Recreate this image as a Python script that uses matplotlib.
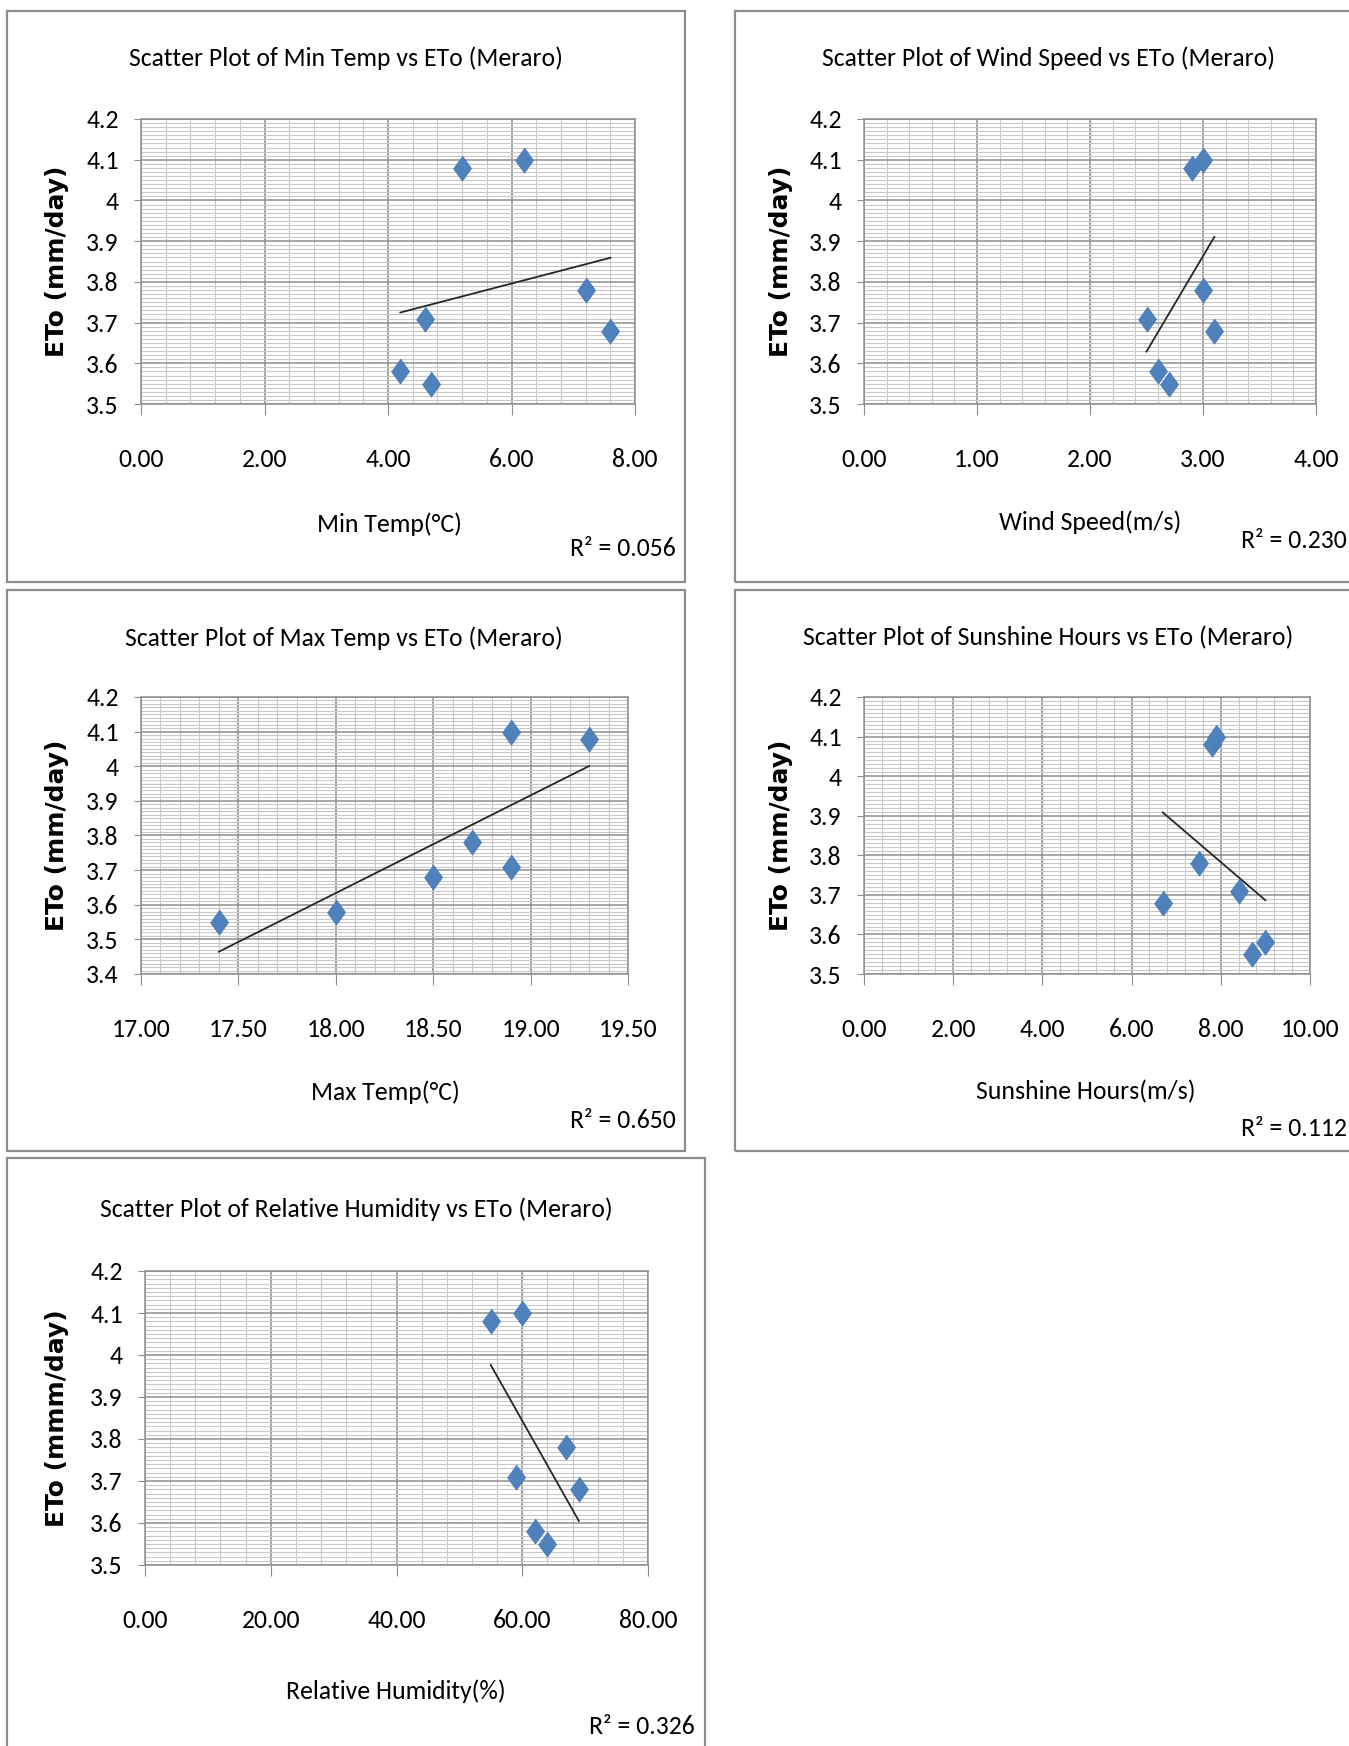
import numpy as np
import matplotlib
matplotlib.use('Agg')
import matplotlib.pyplot as plt
from matplotlib.patches import Rectangle
from matplotlib.ticker import MultipleLocator

W, H = 1349, 1746
plt.rcParams['font.family'] = ['Carlito', 'DejaVu Sans']

# data (7 months, Meraro station)
eto = [3.58, 3.55, 3.71, 4.08, 4.10, 3.78, 3.68]
min_temp = [4.2, 4.7, 4.6, 5.2, 6.2, 7.2, 7.6]
wind_speed = [2.6, 2.7, 2.5, 2.9, 3.0, 3.0, 3.1]
max_temp = [18.0, 17.4, 18.9, 19.3, 18.9, 18.7, 18.5]
sunshine = [9.0, 8.7, 8.4, 7.8, 7.9, 7.5, 6.7]
rel_hum = [62, 64, 59, 55, 60, 67, 69]

titles = ['Scatter Plot of Min Temp vs ETo (Meraro)',
          'Scatter Plot of Wind Speed vs ETo (Meraro)',
          'Scatter Plot of Max Temp vs ETo (Meraro)',
          'Scatter Plot of Sunshine Hours vs ETo (Meraro)',
          'Scatter Plot of Relative Humidity vs ETo (Meraro)']
xlabels = ['Min Temp(°C)', 'Wind Speed(m/s)', 'Max Temp(°C)',
           'Sunshine Hours(m/s)', 'Relative Humidity(%)']
ylabels = ['ETo (mm/day)'] * 4 + ['ETo (mmm/day)']
r2_labels = ['R² = 0.056', 'R² = 0.230', 'R² = 0.650', 'R² = 0.112', 'R² = 0.326']
xdata = [min_temp, wind_speed, max_temp, sunshine, rel_hum]

# layout in pixels: axes box (l, t, r, b), panel frame, text anchors
panels = [
    dict(ax=(141, 119, 635, 404), frame=(7, 11, 685, 582), xlim=(0, 8), xmaj=2, ylim=(3.5, 4.2),
         title=(346, 58), xl=(389, 524), yl=57, r2=(676, 548, 'right')),
    dict(ax=(864, 119, 1316, 404), frame=(735, 11, 1360, 582), xlim=(0, 4), xmaj=1, ylim=(3.5, 4.2),
         title=(1048, 58), xl=(1090, 522), yl=781, r2=(1347, 541, 'right')),
    dict(ax=(141, 697, 628, 974), frame=(7, 590, 685, 1151), xlim=(17, 19.5), xmaj=0.5, ylim=(3.4, 4.2),
         title=(344, 638), xl=(385, 1092), yl=57, r2=(676, 1120, 'right')),
    dict(ax=(864, 697, 1310, 974), frame=(735, 590, 1360, 1151), xlim=(0, 10), xmaj=2, ylim=(3.5, 4.2),
         title=(1048, 638), xl=(1086, 1092), yl=781, r2=(1347, 1129, 'right')),
    dict(ax=(145, 1271, 648, 1565), frame=(7, 1158, 705, 1760), xlim=(0, 80), xmaj=20, ylim=(3.5, 4.2),
         title=(356, 1209), xl=(396, 1691), yl=57, r2=(695, 1727, 'right')),
]

fig = plt.figure(figsize=(W / 100, H / 100), dpi=100)

def fxy(px, py):
    return px / W, 1 - py / H

txt = dict(fontsize=18.5, color='black')
diamond = [(0, 1), (0.72, 0), (0, -1), (-0.72, 0)]

for i, p in enumerate(panels):
    l, t, r, b = p['frame']
    x0, y0 = fxy(l, b)
    fig.patches.append(Rectangle((x0, y0), (r - l) / W, (b - t) / H, transform=fig.transFigure,
                                 fill=False, edgecolor='#8c8c8c', lw=1.6))

    l, t, r, b = p['ax']
    x0, y0 = fxy(l, b)
    ax = fig.add_axes([x0, y0, (r - l) / W, (b - t) / H])
    ax.set_xlim(*p['xlim'])
    ax.set_ylim(*p['ylim'])
    ax.xaxis.set_major_locator(MultipleLocator(p['xmaj']))
    ax.xaxis.set_minor_locator(MultipleLocator(p['xmaj'] / 5))
    ax.yaxis.set_major_locator(MultipleLocator(0.1))
    ax.yaxis.set_minor_locator(MultipleLocator(0.01))
    ax.grid(which='major', color='#8e8e8e', lw=1.1)
    ax.grid(which='minor', color='#c8c8c8', lw=0.8)
    ax.set_axisbelow(True)
    for s in ax.spines.values():
        s.set_color('#8e8e8e')
        s.set_linewidth(1.1)
    ax.tick_params(which='minor', length=0)
    ax.tick_params(axis='x', which='major', length=8, color='#8e8e8e', pad=24, labelsize=18.5)
    ax.tick_params(axis='y', which='major', length=5, color='#8e8e8e', pad=11, labelsize=18.5)
    ax.xaxis.set_major_formatter(lambda v, pos: f'{v:.2f}')
    ax.yaxis.set_major_formatter(lambda v, pos: f'{v:g}')

    x = np.array(xdata[i], dtype=float)
    y = np.array(eto)
    ax.scatter(x, y, marker=diamond, s=330, color='#4f81bd', edgecolor='#4575b0', lw=0.5, zorder=3)
    k, c = np.polyfit(x, y, 1)
    xs = np.array([x.min(), x.max()])
    ax.plot(xs, k * xs + c, color='#262626', lw=1.3, zorder=2)

    fig.text(*fxy(*p['title']), titles[i], ha='center', va='center', **txt)
    fig.text(*fxy(*p['xl']), xlabels[i], ha='center', va='center', **txt)
    fig.text(*fxy(p['yl'], (t + b) / 2), ylabels[i], rotation=90, ha='center', va='center',
             fontsize=18, fontweight='bold', family='DejaVu Sans')
    rx, ry, ha = p['r2']
    fig.text(*fxy(rx, ry), r2_labels[i], ha=ha, va='center', **txt)

fig.savefig('out.png', dpi=100)
